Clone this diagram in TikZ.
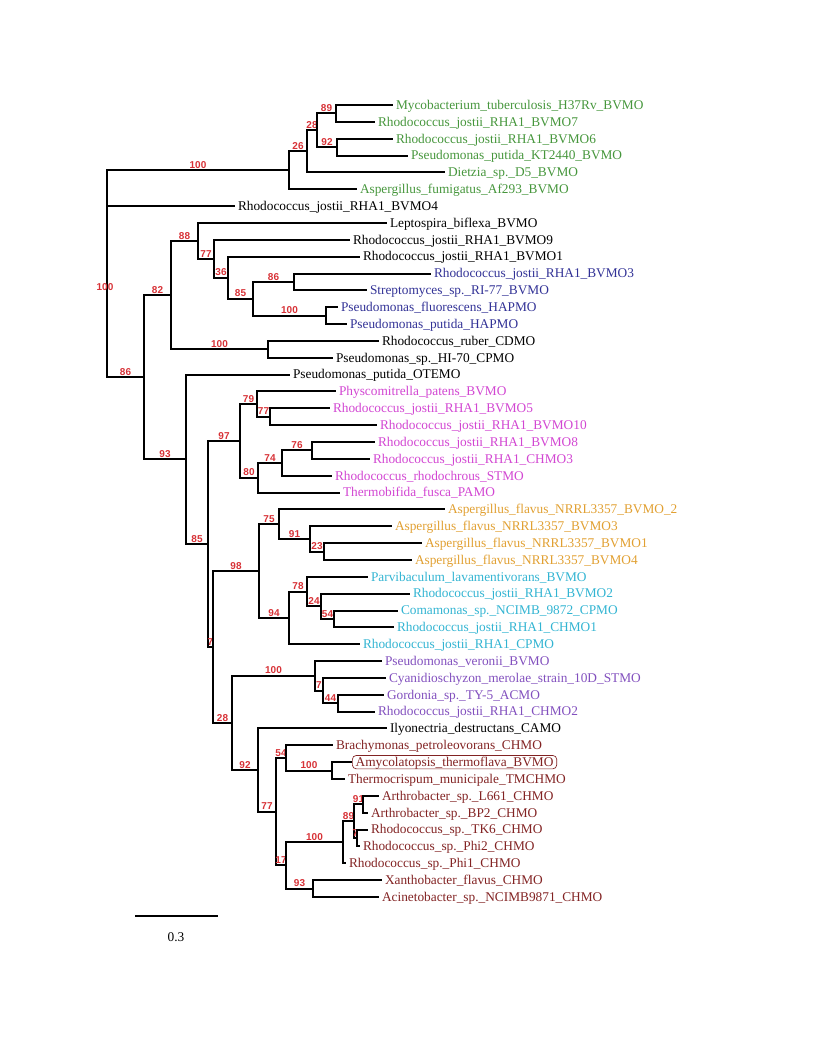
\documentclass[tikz,border=0pt]{standalone}
\usepackage{fontspec}
\setmainfont{Liberation Serif}
\newfontfamily\bootfont{Liberation Sans}
\usepackage{tikz}
\definecolor{grn}{RGB}{70,150,60}
\definecolor{blu}{RGB}{50,50,150}
\definecolor{mag}{RGB}{210,70,210}
\definecolor{org}{RGB}{225,160,50}
\definecolor{cyn}{RGB}{50,180,210}
\definecolor{pur}{RGB}{130,80,190}
\definecolor{dred}{RGB}{130,35,35}
\definecolor{bootred}{RGB}{215,50,55}

\begin{document}
\begin{tikzpicture}[x=0.75pt, y=-0.75pt, line width=1.5pt,
        every node/.append style={font=\fontsize{10}{12}\selectfont}]
      \tikzstyle{tip} = [anchor=west, inner xsep=1.5pt, inner ysep=0pt, text height=7pt, text depth=0.5pt]
      \tikzstyle{boxtip} = [dred, draw, rounded corners=3pt, line width=0.5pt, inner xsep=2.5pt, inner ysep=1.3pt]
      \tikzstyle{boot} = [above, inner sep=0.6pt, color=bootred,
        font=\bootfont\bfseries\fontsize{7.5}{8}\selectfont]
      \useasboundingbox (0,0) rectangle (816,1056);
      % leaves
      \foreach \i/\x/\c/\t in {
          1/393/grn/Mycobacterium\_tuberculosis\_H37Rv\_BVMO,
          2/375/grn/Rhodococcus\_jostii\_RHA1\_BVMO7,
          3/393/grn/Rhodococcus\_jostii\_RHA1\_BVMO6,
          4/408/grn/Pseudomonas\_putida\_KT2440\_BVMO,
          5/445/grn/Dietzia\_sp.\_D5\_BVMO,
          6/357/grn/Aspergillus\_fumigatus\_Af293\_BVMO,
          7/235/black/Rhodococcus\_jostii\_RHA1\_BVMO4,
          8/387/black/Leptospira\_biflexa\_BVMO,
          9/350/black/Rhodococcus\_jostii\_RHA1\_BVMO9,
          10/360/black/Rhodococcus\_jostii\_RHA1\_BVMO1,
          11/431/blu/Rhodococcus\_jostii\_RHA1\_BVMO3,
          12/367/blu/Streptomyces\_sp.\_RI-77\_BVMO,
          13/338/blu/Pseudomonas\_fluorescens\_HAPMO,
          14/347/blu/Pseudomonas\_putida\_HAPMO,
          15/379/black/Rhodococcus\_ruber\_CDMO,
          16/333/black/Pseudomonas\_sp.\_HI-70\_CPMO,
          17/290/black/Pseudomonas\_putida\_OTEMO,
          18/336/mag/Physcomitrella\_patens\_BVMO,
          19/330/mag/Rhodococcus\_jostii\_RHA1\_BVMO5,
          20/377/mag/Rhodococcus\_jostii\_RHA1\_BVMO10,
          21/375/mag/Rhodococcus\_jostii\_RHA1\_BVMO8,
          22/370/mag/Rhodococcus\_jostii\_RHA1\_CHMO3,
          23/332/mag/Rhodococcus\_rhodochrous\_STMO,
          24/340/mag/Thermobifida\_fusca\_PAMO,
          25/445/org/Aspergillus\_flavus\_NRRL3357\_BVMO\_2,
          26/392/org/Aspergillus\_flavus\_NRRL3357\_BVMO3,
          27/422/org/Aspergillus\_flavus\_NRRL3357\_BVMO1,
          28/412/org/Aspergillus\_flavus\_NRRL3357\_BVMO4,
          29/368/cyn/Parvibaculum\_lavamentivorans\_BVMO,
          30/410/cyn/Rhodococcus\_jostii\_RHA1\_BVMO2,
          31/398/cyn/Comamonas\_sp.\_NCIMB\_9872\_CPMO,
          32/394/cyn/Rhodococcus\_jostii\_RHA1\_CHMO1,
          33/360/cyn/Rhodococcus\_jostii\_RHA1\_CPMO,
          34/382/pur/Pseudomonas\_veronii\_BVMO,
          35/386/pur/Cyanidioschyzon\_merolae\_strain\_10D\_STMO,
          36/384/pur/Gordonia\_sp.\_TY-5\_ACMO,
          37/375/pur/Rhodococcus\_jostii\_RHA1\_CHMO2,
          38/387/black/Ilyonectria\_destructans\_CAMO,
          39/333/dred/Brachymonas\_petroleovorans\_CHMO,
          40/352/boxtip/Amycolatopsis\_thermoflava\_BVMO,
          41/345/dred/Thermocrispum\_municipale\_TMCHMO,
          42/379/dred/Arthrobacter\_sp.\_L661\_CHMO,
          43/368/dred/Arthrobacter\_sp.\_BP2\_CHMO,
          44/368/dred/Rhodococcus\_sp.\_TK6\_CHMO,
          45/360/dred/Rhodococcus\_sp.\_Phi2\_CHMO,
          46/346/dred/Rhodococcus\_sp.\_Phi1\_CHMO,
          47/382/dred/Xanthobacter\_flavus\_CHMO,
          48/379/dred/Acinetobacter\_sp.\_NCIMB9871\_CHMO}
        \node (t\i) [tip,\c] at (\x,{105+16.85*(\i-1)}) {\t};
      % inner nodes
      \foreach \n/\x/\y in {root/107/273.7, nG1/289/170.3, nG2/307/151.4, nG3/317/130.3,
          n89/336/113.4, n92/337/147.1, n86/144/377.2, n82/171/295.1, n88/198/240.9,
          n77a/214/258.8, n36/228/277.7, n85a/253/298.8, n86b/294/281.9, n100h/326/315.6,
          nC100/268/349.3, n93/186/459.3, n85b/208/544.0, n97/240/441.0, n79/257/404.1,
          n77b/270/416.7, n80/258/477.8, n74/282/463.1, n76/312/450.4, nQ1/213/647.0,
          n98/259/571.0, n75/279/524.2, n91a/310/538.9, n23/324/551.5, n94/289/617.9,
          n78/307/591.5, n24/321/606.3, n54a/334/618.9, n28b/232/722.9, nP100/315/675.8,
          nQ2/323/690.5, n44/338/703.2, n92b/258/770.0, n77c/276/811.6, n54b/286/757.9,
          nA100/332/770.6, n17/286/865.4, nB100/343/842.2, n89c/354/821.1, n91c/363/804.3,
          nQ3/357/838.0, n93c/313/888.5}
        \coordinate (\n) at (\x,\y);
      % branches with bootstrap values
      \foreach \p/\c/\l in {root/nG1/100, nG1/nG2/26, nG2/nG3/28, nG3/n89/89, nG3/n92/92,
          root/n86/86, n86/n82/82, n82/n88/88, n88/n77a/77, n77a/n36/36, n36/n85a/85,
          n85a/n86b/86, n85a/n100h/100, n82/nC100/100, n86/n93/93, n93/n85b/85,
          n85b/n97/97, n97/n79/79, n79/n77b/77, n97/n80/80, n80/n74/74, n74/n76/76,
          n85b/nQ1/7, nQ1/n98/98, n98/n75/75, n75/n91a/91, n91a/n23/23, n98/n94/94,
          n94/n78/78, n78/n24/24, n24/n54a/54, nQ1/n28b/28, n28b/nP100/100,
          nP100/nQ2/7, nQ2/n44/44, n28b/n92b/92, n92b/n77c/77, n77c/n54b/54,
          n54b/nA100/100, n77c/n17/17, n17/nB100/100, nB100/n89c/89, n89c/n91c/91,
          n89c/nQ3/7, n17/n93c/93}
        \draw (\p) |- (\c) node [boot, pos=.75] {\l};
      % branches to leaves
      \foreach \p/\c in {nG1/t6, nG2/t5, n89/t1, n89/t2, n92/t3, n92/t4, root/t7,
          n88/t8, n77a/t9, n36/t10, n86b/t11, n86b/t12, n100h/t13, n100h/t14,
          nC100/t15, nC100/t16, n93/t17, n79/t18, n77b/t19, n77b/t20, n76/t21,
          n76/t22, n74/t23, n80/t24, n75/t25, n91a/t26, n23/t27, n23/t28, n78/t29,
          n24/t30, n54a/t31, n54a/t32, n94/t33, nP100/t34, nQ2/t35, n44/t36,
          n44/t37, n92b/t38, n54b/t39, nA100/t40, nA100/t41, n91c/t42, n91c/t43,
          nQ3/t44, nQ3/t45, nB100/t46, n93c/t47, n93c/t48}
        \draw (\p) |- (\c.west);
      \node (rootboot) [boot, anchor=center] at (105,287) {100};
      % scale bar
      \coordinate (bar0) at (135,916);
      \coordinate (bar1) at (218,916);
      \draw (bar0) -- (bar1);
      \node (barlab) at (176,937) {0.3};
    \end{tikzpicture}
\end{document}
